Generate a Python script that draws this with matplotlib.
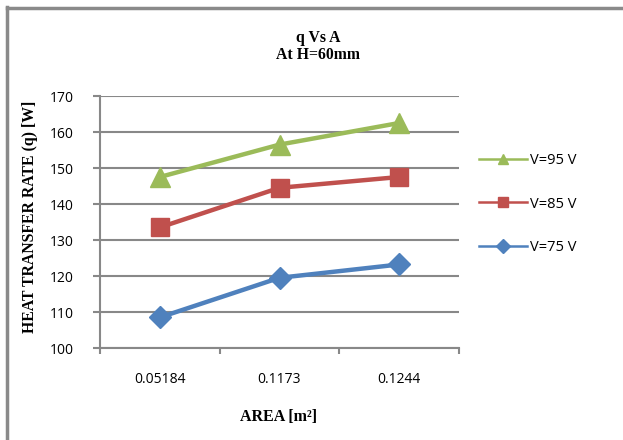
import matplotlib
matplotlib.use("Agg")
import matplotlib.pyplot as plt
from matplotlib.lines import Line2D

areas = ["0.05184", "0.1173", "0.1244"]
q_95 = [147.5, 156.5, 162.5]
q_85 = [133.5, 144.5, 147.5]
q_75 = [108.5, 119.5, 123.2]
yticks = [100, 110, 120, 130, 140, 150, 160, 170]

series = [
    ("V=95 V", q_95, "#9BBB59", "^", 15),
    ("V=85 V", q_85, "#C0504D", "s", 13),
    ("V=75 V", q_75, "#4F81BD", "D", 11),
]

W, H = 623, 440
fig = plt.figure(figsize=(W / 100, H / 100), dpi=100)
ax = fig.add_axes([100 / W, 1 - 348 / H, 359 / W, 252 / H])

grid_c = "#888888"
x = list(range(len(areas)))
for label, vals, col, mk, ms in series:
    ax.plot(x, vals, color=col, lw=3.2, marker=mk, ms=ms,
            markeredgecolor=col, solid_capstyle="round", zorder=3)

ax.set_xlim(-0.5, len(areas) - 0.5)
ax.set_ylim(100, 170)
ax.set_yticks(yticks)
ax.set_xticks(x)
ax.set_xticklabels(areas)
ax.set_xticks([i - 0.5 for i in range(len(areas) + 1)], minor=True)
ax.yaxis.grid(True, color=grid_c, lw=1.5)
ax.set_axisbelow(True)
for s in ["top", "right"]:
    ax.spines[s].set_visible(False)
for s in ["left", "bottom"]:
    ax.spines[s].set_color(grid_c)
    ax.spines[s].set_linewidth(1.5)
ax.tick_params(axis="y", length=5, width=1.5, color=grid_c, pad=14,
               labelsize=10)
ax.tick_params(axis="x", which="major", length=0, pad=17, labelsize=10)
ax.tick_params(axis="x", which="minor", length=4, width=1.5, color=grid_c)
for t in ax.get_xticklabels() + ax.get_yticklabels():
    t.set_fontfamily("Open Sans")

serif = "Liberation Serif"
fig.text(318 / W, 1 - 38 / H, "q Vs A", ha="center", va="center",
         fontfamily=serif, fontweight="bold", fontsize=11.3)
fig.text(318 / W, 1 - 55 / H, "At H=60mm", ha="center", va="center",
         fontfamily=serif, fontweight="bold", fontsize=11.3)
fig.text(30 / W, 1 - 217 / H, "HEAT TRANSFER RATE (q) [W]", rotation=90,
         ha="center", va="center", fontfamily=serif, fontweight="bold",
         fontsize=11.3)
fig.text(279 / W, 1 - 417 / H, "AREA [m²]", ha="center", va="center",
         fontfamily=serif, fontweight="bold", fontsize=11.5)

handles = [Line2D([], [], color=col, lw=1.8, marker=mk, ms=7.5,
                  markeredgecolor=col)
           for _, _, col, mk, _ in series]
leg = fig.legend(handles, [s[0] for s in series], loc="upper left",
                 bbox_to_anchor=(466 / W, 1 - 140 / H), frameon=False,
                 handlelength=3.3, handletextpad=0.2, labelspacing=1.95,
                 prop={"family": "Open Sans", "size": 10.5})

# chart frame
fig.add_artist(Line2D([7 / W, 7 / W], [0, 1 - 7 / H], color="#8a8a8a",
                      lw=2.5, transform=fig.transFigure))
fig.add_artist(Line2D([7 / W, 1], [1 - 8 / H, 1 - 8 / H], color="#8a8a8a",
                      lw=2.5, transform=fig.transFigure))

fig.savefig("out.png", dpi=100)
